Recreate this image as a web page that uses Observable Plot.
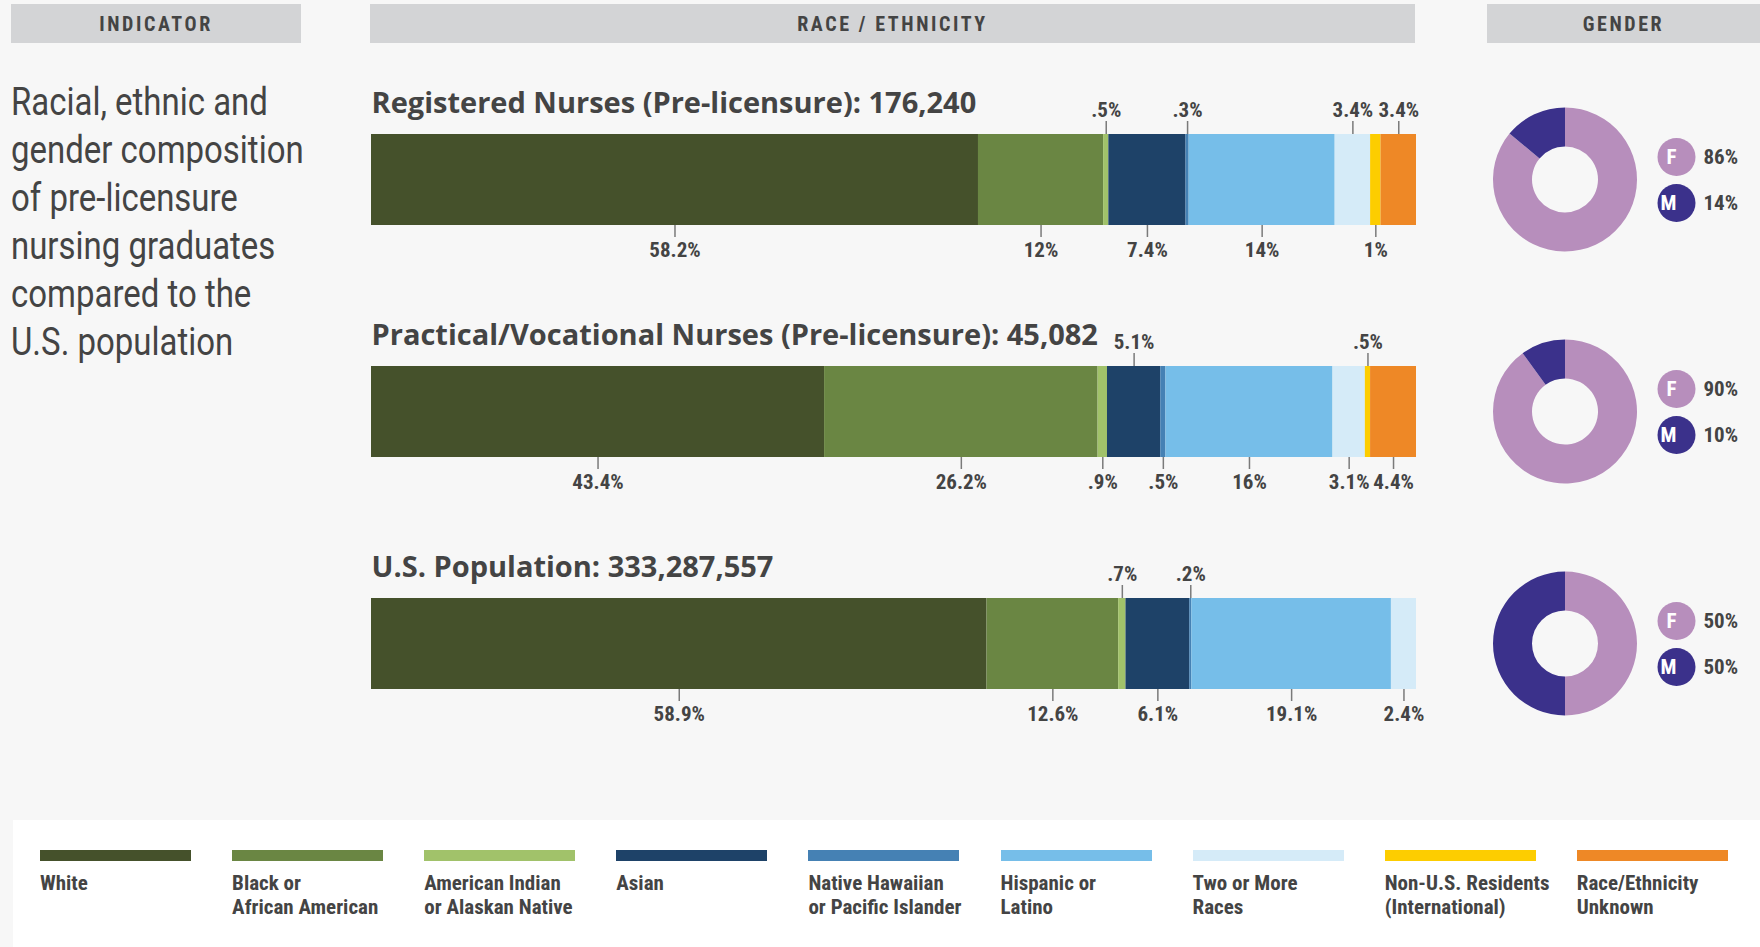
<!DOCTYPE html>
<html><head><meta charset="utf-8">
<script src="https://cdn.jsdelivr.net/npm/d3@7"></script>
<script src="https://cdn.jsdelivr.net/npm/@observablehq/plot@0.6"></script>
<style>
html,body{margin:0;padding:0;background:#f7f7f7;width:1760px;height:947px;overflow:hidden;position:relative;color:#444}
.hdr{position:absolute;top:4px;height:39px;background:#d3d4d6;display:flex;align-items:center;justify-content:center;font-family:Roboto,sans-serif;font-stretch:condensed;font-weight:700;font-size:20px;letter-spacing:2.6px;color:#444}
#intro{position:absolute;left:11px;top:78px;font-family:Roboto,sans-serif;font-size:39px;line-height:48px;transform:scaleX(0.845);transform-origin:0 0;white-space:nowrap;color:#444}
#chart{position:absolute;left:0;top:0}
#chart g[font-family*="Open Sans"]{font-stretch:90%}
#legend{position:absolute;left:13px;top:820px;right:0;bottom:0;background:#fff}
.item{position:absolute;top:30px;width:151px}
.sw{height:11px}
.lab{margin-top:10px;font-family:Roboto,sans-serif;font-stretch:condensed;font-weight:700;font-size:21px;line-height:24px;color:#444;white-space:nowrap}
</style></head>
<body>
<div class="hdr" style="left:11px;width:290px">INDICATOR</div>
<div class="hdr" style="left:370px;width:1045px">RACE / ETHNICITY</div>
<div class="hdr" style="left:1487px;width:273px">GENDER</div>
<div id="intro">Racial, ethnic and<br>gender composition<br>of pre-licensure<br>nursing graduates<br>compared to the<br>U.S. population</div>
<div id="chart"></div>
<div id="legend"></div>
<script>
// ---- data ----
const groups = ["Registered Nurses (Pre-licensure)", "Practical/Vocational Nurses (Pre-licensure)", "U.S. Population"];
const totals = ["176,240", "45,082", "333,287,557"];
const races = ["White", "Black or African American", "American Indian or Alaskan Native", "Asian",
  "Native Hawaiian or Pacific Islander", "Hispanic or Latino", "Two or More Races",
  "Non-U.S. Residents (International)", "Race/Ethnicity Unknown"];
const legendLabels = [["White"], ["Black or", "African American"], ["American Indian", "or Alaskan Native"], ["Asian"],
  ["Native Hawaiian", "or Pacific Islander"], ["Hispanic or", "Latino"], ["Two or More", "Races"],
  ["Non-U.S. Residents", "(International)"], ["Race/Ethnicity", "Unknown"]];
const raceColors = ["#45512b", "#6a8643", "#a1c26a", "#1e4268", "#4581b4", "#76bee9", "#d5ebf8", "#fdcd00", "#ee8826"];
const rnValues = [58.2, 12, 0.5, 7.4, 0.3, 14, 3.4, 1, 3.4];
const lpnValues = [43.4, 26.2, 0.9, 5.1, 0.5, 16, 3.1, 0.5, 4.4];
const usValues = [58.9, 12.6, 0.7, 6.1, 0.2, 19.1, 2.4, 0, 0];
// which race labels sit above the bar (the others sit below)
const rnAbove = ["American Indian or Alaskan Native", "Native Hawaiian or Pacific Islander", "Two or More Races", "Race/Ethnicity Unknown"];
const lpnAbove = ["Asian", "Non-U.S. Residents (International)"];
const usAbove = ["American Indian or Alaskan Native", "Native Hawaiian or Pacific Islander"];
const femalePct = [86, 90, 50];
const malePct = [14, 10, 50];
const genderColors = {F: "#b78ebc", M: "#3b318b"};

// ---- tables ----
const seriesValues = [rnValues, lpnValues, usValues];
const seriesAbove = [rnAbove, lpnAbove, usAbove];
const rows = groups.flatMap((g, gi) => races.map((r, ri) => ({
  group: g, race: r, value: seriesValues[gi][ri], above: seriesAbove[gi].includes(r)
})));
const fmt = v => String(v).replace(/^0\./, ".") + "%";
const femaleRows = groups.map((g, i) => ({group: g, sex: "F", pct: femalePct[i]}));
const maleRows = groups.map((g, i) => ({group: g, sex: "M", pct: malePct[i]}));

const W = 1760, H = 760;
const labelFont = 'Roboto,sans-serif';
const stackOpts = {x: "value", y: "group", offset: "normalize"};

function donuts(index, scales, values, dimensions) {
  const y = scales.y;
  const bw = typeof y.bandwidth === "function" ? y.bandwidth() : (y.bandwidth ?? 0);
  const cx = dimensions.width - dimensions.marginRight + 149;
  const g = d3.create("svg:g");
  const arc = d3.arc().innerRadius(33).outerRadius(72);
  const pie = d3.pie().sort(null).value(d => d.pct);
  groups.forEach((grp, i) => {
    const cy = y(grp) + bw / 2;
    const gg = g.append("g").attr("transform", `translate(${cx},${cy})`);
    gg.selectAll("path").data(pie([femaleRows[i], maleRows[i]]))
      .join("path").attr("d", arc).attr("fill", d => genderColors[d.data.sex]);
  });
  return g.node();
}

const genderKey = (data, dy) => [
  Plot.dot(data, {y: "group", frameAnchor: "right", dx: 260, dy, r: 19, fill: d => genderColors[d.sex], stroke: null}),
  Plot.text(data, {y: "group", frameAnchor: "right", dx: 260, dy, text: "sex", fill: "white", fontSize: 21, fontWeight: 700, fontFamily: labelFont}),
  Plot.text(data, {y: "group", frameAnchor: "right", dx: 287, dy, text: d => d.pct + "%", textAnchor: "start", fill: "#444", fontSize: 21, fontWeight: 700, fontFamily: labelFont})
];

const chart = Plot.plot({
  width: W, height: H,
  marginLeft: 371, marginRight: 344, marginTop: 134, marginBottom: H - 689,
  style: {background: "transparent", overflow: "visible", fontStretch: "condensed"},
  x: {axis: null},
  y: {axis: null, domain: groups, range: [134, 689], paddingInner: 0.608, paddingOuter: 0},
  color: {domain: races, range: raceColors},
  marks: [
    Plot.barX(rows, Plot.stackX({...stackOpts, fill: "race"})),
    Plot.tickX(rows, Plot.stackX({...stackOpts, stroke: "#7a7a7a", strokeWidth: 1.5,
      strokeOpacity: d => d.value > 0 && d.above ? 1 : 0, insetTop: -13, insetBottom: 91})),
    Plot.tickX(rows, Plot.stackX({...stackOpts, stroke: "#7a7a7a", strokeWidth: 1.5,
      strokeOpacity: d => d.value > 0 && !d.above ? 1 : 0, insetTop: 91, insetBottom: -12})),
    Plot.text(rows, Plot.stackX({...stackOpts, text: d => d.value > 0 && d.above ? fmt(d.value) : null,
      dy: -70, fontSize: 21, fontWeight: 700, fill: "#444", fontFamily: labelFont})),
    Plot.text(rows, Plot.stackX({...stackOpts, text: d => d.value > 0 && !d.above ? fmt(d.value) : null,
      dy: 70, fontSize: 21, fontWeight: 700, fill: "#444", fontFamily: labelFont})),
    Plot.text(groups, {y: d => d, text: (d, i) => `${d}: ${totals[i]}`, frameAnchor: "left", textAnchor: "start",
      dy: -76, fontSize: 29, fontWeight: 700, fill: "#444", fontFamily: '"Open Sans",sans-serif'}),
    donuts,
    ...genderKey(femaleRows, -23),
    ...genderKey(maleRows, 23)
  ]
});
document.getElementById("chart").append(chart);

// ---- legend ----
const legend = d3.select("#legend");
races.forEach((r, i) => {
  const item = legend.append("div").attr("class", "item").style("left", (27 + i * 192.1) + "px");
  item.append("div").attr("class", "sw").style("background", raceColors[i]);
  item.append("div").attr("class", "lab").html(legendLabels[i].join("<br>"));
});
</script>
</body></html>
